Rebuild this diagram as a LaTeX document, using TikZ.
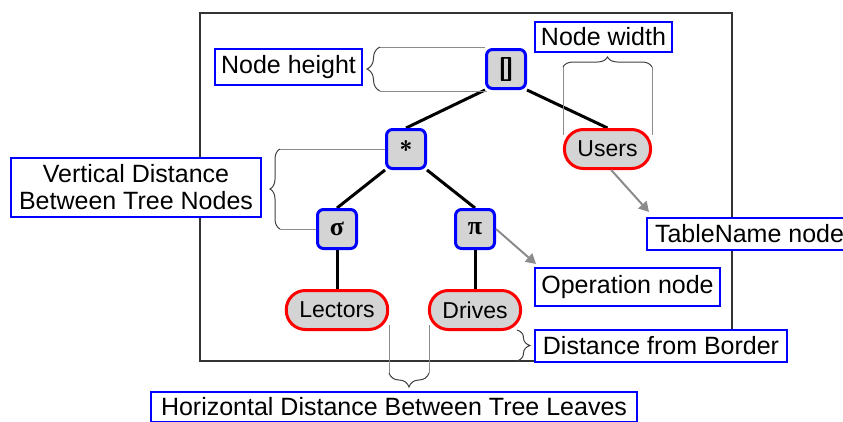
\documentclass[tikz,border=0pt]{standalone}
\usepackage{fontspec}
\setmainfont{Liberation Sans}
\newfontfamily\opfont{Liberation Serif}
\usetikzlibrary{arrows.meta, positioning, backgrounds, decorations.pathreplacing}
\definecolor{nodegray}{RGB}{212,212,212}
\definecolor{guidegray}{RGB}{140,140,140}
\tikzset{
  % tree nodes
  opnode/.style={
    rectangle, rounded corners=6pt,
    fill=nodegray, draw=blue, line width=3pt,
    minimum width=39pt, minimum height=39pt, inner sep=0pt,
    font=\opfont\fontsize{26}{26}\selectfont\bfseries
  },
  tblnode/.style={
    rectangle, rounded corners=19pt,
    fill=nodegray, draw=red, line width=3pt,
    minimum height=39pt, inner xsep=13pt, inner ysep=0pt,
    font=\fontsize{23}{23}\selectfont
  },
  treeedge/.style={line width=3pt, draw=black},
  % annotations
  notebox/.style={
    rectangle, draw=blue, line width=2pt, fill=white,
    inner sep=0pt, align=center,
    font=\fontsize{25}{27}\selectfont
  },
  guideline/.style={draw=guidegray, line width=1pt},
  bracestyle/.style={
    decorate, decoration={brace, amplitude=#1},
    line width=1pt, draw=black!75
  },
  bracestyle/.default=12pt,
  notearrow/.style={
    -{Triangle[length=10pt,width=11pt]}, draw=guidegray, line width=2pt
  }
}

\begin{document}
\begin{tikzpicture}[x=1pt, y=-1pt]
  \useasboundingbox (0,0) rectangle (843,421);
  \clip (0,0) rectangle (843,421);

  % Tree
  \node[opnode] (joinop) at (506,69) {\sffamily\fontsize{24}{24}\selectfont[\kern-2pt]};
  \node[opnode] (prodop) at (406,149) {\sffamily\fontsize{24}{24}\selectfont*};
  \node[opnode] (selop) at (337,229) {σ};
  \node[opnode] (projop) at (475,229) {π};
  \node[tblnode] (users) at (607.5,149) {Users};
  \node[tblnode] (lectors) at (337,310) {Lectors};
  \node[tblnode] (drives) at (475,310) {Drives};

  % Annotation boxes
  \node[notebox, minimum width=147pt, minimum height=36pt] (heightnote) at (288.5,67) {Node height};
  \node[notebox, minimum width=137pt, minimum height=30pt] (widthnote) at (603.5,37) {Node width};
  \node[notebox, minimum width=250pt, minimum height=59pt] (vdistnote) at (136,187.5) {Vertical Distance\\Between Tree Nodes};
  \node[notebox, minimum width=205pt, minimum height=32pt] (tblnote) at (749.5,234) {TableName node};
  \node[notebox, minimum width=185pt, minimum height=38pt] (opnote) at (627.5,287) {Operation node};
  \node[notebox, minimum width=252pt, minimum height=32pt] (bordernote) at (661,346) {Distance from Border};
  \node[notebox, minimum width=486pt, minimum height=30pt] (hdistnote) at (394,407) {Horizontal Distance Between Tree Leaves};

  \begin{scope}[on background layer]
    \draw[line width=2pt, draw=black!80] (200,13) rectangle (732,361);
    \draw[treeedge] (joinop.south west) -- (prodop.north);
    \draw[treeedge] (joinop.south east) -- (users.north);
    \draw[treeedge] (prodop.south west) -- (selop.north);
    \draw[treeedge] (prodop.south east) -- (projop.north);
    \draw[treeedge] (selop) -- (lectors);
    \draw[treeedge] (projop) -- (drives);
  \end{scope}

  % Guides and braces
  \draw[guideline] (380,47) -- (485,47);
  \draw[guideline] (380,91) -- (487,91);
  \draw[bracestyle=13pt] (380,91) -- (380,47);

  \draw[guideline] (563,67) -- (563,135);
  \draw[guideline] (652,67) -- (652,135);
  \draw[bracestyle=10pt] (563,67) -- (652,67);

  \draw[guideline] (280,149) -- (prodop.west);
  \draw[guideline] (280,229) -- (selop.west);
  \draw[bracestyle=10pt] (280,229) -- (280,149);

  \draw[guideline] (389,325) -- (389,373);
  \draw[guideline] (429,325) -- (429,373);
  \draw[bracestyle=14pt] (429,373) -- (389,373);

  \draw[bracestyle=13pt] (517,330) -- (517,361);

  % Pointers
  \draw[notearrow] (users.-80) -- ([shift={(3,-5)}]tblnote.north west);
  \draw[notearrow] (projop.east) -- ([shift={(2,-3)}]opnote.north west);
\end{tikzpicture}
\end{document}
